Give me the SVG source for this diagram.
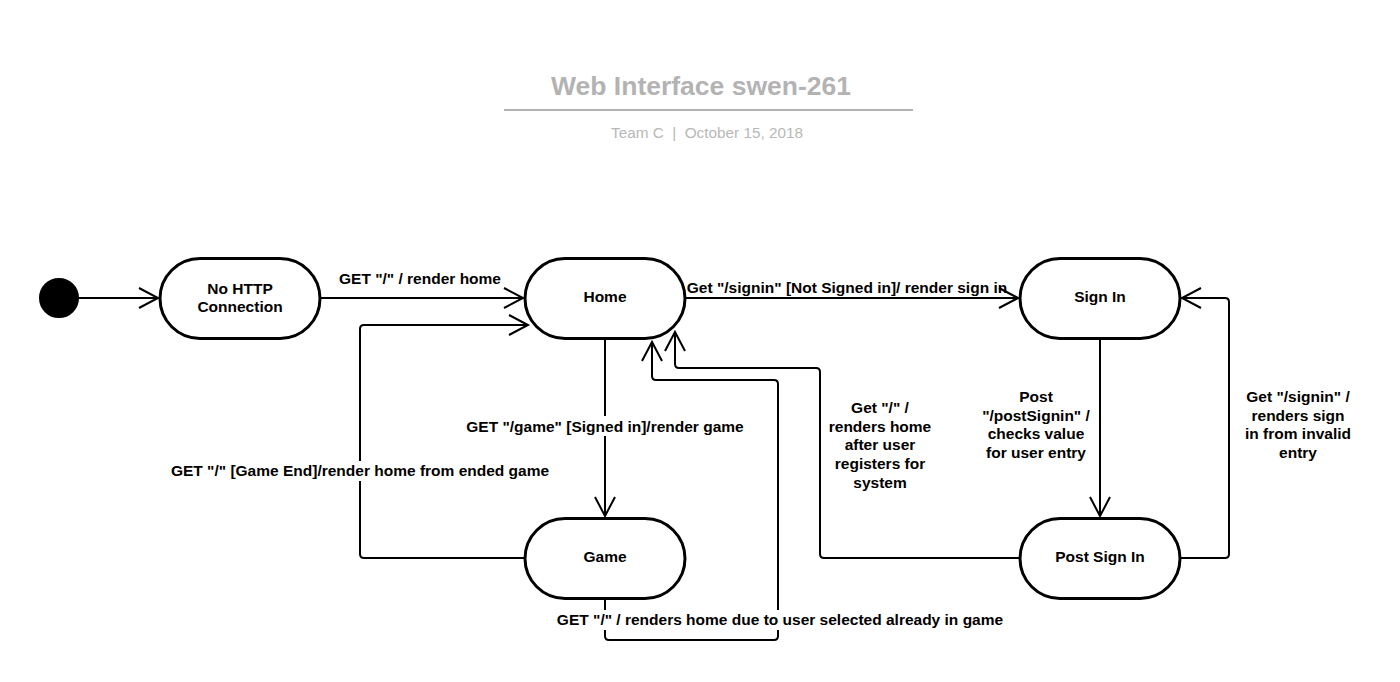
<svg xmlns="http://www.w3.org/2000/svg" width="1400" height="682" viewBox="0 0 1400 682">
  <defs>
    <marker id="open-arrow" markerUnits="userSpaceOnUse" markerWidth="24" markerHeight="24" refX="20" refY="11" orient="auto" overflow="visible">
      <path d="M1,1 L20,11 L1,21" fill="none" stroke="#000" stroke-width="2"/>
    </marker>
    <style>
      .state { fill: #fff; stroke: #000; stroke-width: 3; }
      .state-label { font-family: "Liberation Sans", Arial, sans-serif; font-size: 15.5px; font-weight: bold; fill: #000; text-anchor: middle; }
      .edge { fill: none; stroke: #000; stroke-width: 2; stroke-linejoin: round; }
      .edge-arrow { marker-end: url(#open-arrow); }
      .edge-label { font-family: "Liberation Sans", Arial, sans-serif; font-size: 15.5px; font-weight: bold; fill: #000; text-anchor: middle; }
      .label-bg { fill: #fff; }
      .title { font-family: "Liberation Sans", Arial, sans-serif; font-size: 26.5px; font-weight: bold; fill: #b3b3b3; text-anchor: middle; }
      .subtitle { font-family: "Liberation Sans", Arial, sans-serif; font-size: 15.3px; fill: #b8b8b8; text-anchor: middle; }
    </style>
  </defs>
  <rect width="1400" height="682" fill="#fff"/>

  <!-- Header -->
  <g id="header">
    <text class="title" x="701" y="95">Web Interface swen-261</text>
    <line x1="504" y1="110" x2="913" y2="110" stroke="#b3b3b3" stroke-width="2"/>
    <text class="subtitle" x="707" y="138" xml:space="preserve">Team C  |  October 15, 2018</text>
  </g>

  <!-- Transitions -->
  <g id="connectors">
    <path class="edge edge-arrow" d="M79,298 L158,298"/>
    <path class="edge edge-arrow" d="M320,298 L523,298"/>
    <path class="edge edge-arrow" d="M685,298 L1018,298"/>
    <path class="edge edge-arrow" d="M605,339 L605,516"/>
    <path class="edge edge-arrow" d="M1100,339 L1100,516"/>
    <!-- Game back to Home (left loop) -->
    <path class="edge edge-arrow" d="M525,558 L364,558 Q360,558 360,554 L360,329 Q360,325 364,325 L528,325"/>
    <!-- Game back to Home (bottom loop) -->
    <path class="edge edge-arrow" d="M605,598 L605,636 Q605,640 609,640 L774,640 Q778,640 778,636 L778,384 Q778,380 774,380 L656,380 Q652,380 652,376 L652,342"/>
    <!-- Post Sign In back to Home -->
    <path class="edge edge-arrow" d="M1020,558 L824,558 Q820,558 820,554 L820,372 Q820,368 816,368 L679,368 Q675,368 675,364 L675,332"/>
    <!-- Post Sign In back to Sign In -->
    <path class="edge edge-arrow" d="M1180,558 L1225,558 Q1229,558 1229,554 L1229,302 Q1229,298 1225,298 L1182,298"/>
  </g>

  <!-- Transition labels -->
  <g id="edge-labels">
    <text class="edge-label" x="420" y="284">GET "/" / render home</text>
    <text class="edge-label" x="847" y="293">Get "/signin" [Not Signed in]/ render sign in</text>
    <rect class="label-bg" x="460" y="416" width="290" height="20"/>
    <text class="edge-label" x="605" y="432">GET "/game" [Signed in]/render game</text>
    <rect class="label-bg" x="165" y="461" width="390" height="20"/>
    <text class="edge-label" x="360" y="476">GET "/" [Game End]/render home from ended game</text>
    <rect class="label-bg" x="550" y="610" width="460" height="20"/>
    <text class="edge-label" x="780" y="625">GET "/" / renders home due to user selected already in game</text>
    <text class="edge-label" x="880" y="413">Get "/" /</text>
    <text class="edge-label" x="880" y="432">renders home</text>
    <text class="edge-label" x="880" y="450">after user</text>
    <text class="edge-label" x="880" y="469">registers for</text>
    <text class="edge-label" x="880" y="488">system</text>
    <text class="edge-label" x="1036" y="402">Post</text>
    <text class="edge-label" x="1036" y="421">"/postSignin" /</text>
    <text class="edge-label" x="1036" y="439">checks value</text>
    <text class="edge-label" x="1036" y="458">for user entry</text>
    <text class="edge-label" x="1298" y="402">Get "/signin" /</text>
    <text class="edge-label" x="1298" y="421">renders sign</text>
    <text class="edge-label" x="1298" y="439">in from invalid</text>
    <text class="edge-label" x="1298" y="458">entry</text>
  </g>

  <!-- States -->
  <g id="initial">
    <circle cx="59" cy="298" r="19" fill="#000" stroke="#000" stroke-width="2"/>
  </g>
  <g id="no-http">
    <rect class="state" x="160" y="258.5" width="160" height="80" rx="40" ry="40"/>
    <text class="state-label" x="240" y="294">No HTTP</text>
    <text class="state-label" x="240" y="312">Connection</text>
  </g>
  <g id="home">
    <rect class="state" x="525" y="258.5" width="160" height="80" rx="40" ry="40"/>
    <text class="state-label" x="605" y="302">Home</text>
  </g>
  <g id="sign-in">
    <rect class="state" x="1020" y="258.5" width="160" height="80" rx="40" ry="40"/>
    <text class="state-label" x="1100" y="302">Sign In</text>
  </g>
  <g id="game">
    <rect class="state" x="525" y="518.5" width="160" height="80" rx="40" ry="40"/>
    <text class="state-label" x="605" y="562">Game</text>
  </g>
  <g id="post-sign-in">
    <rect class="state" x="1020" y="518.5" width="160" height="80" rx="40" ry="40"/>
    <text class="state-label" x="1100" y="562">Post Sign In</text>
  </g>
</svg>
